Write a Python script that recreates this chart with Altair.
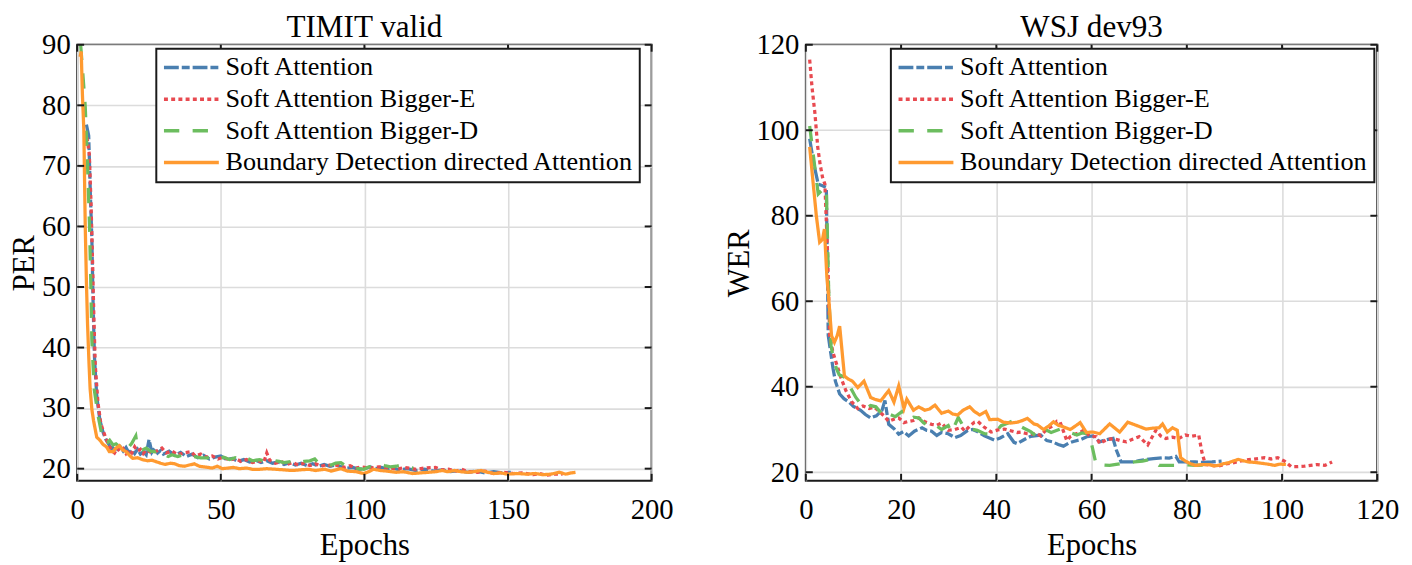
import altair as alt
import pandas as pd

SERIES = ["Soft Attention", "Soft Attention Bigger-E", "Soft Attention Bigger-D",
          "Boundary Detection directed Attention"]
COLORS = ["#4a7fb0", "#e84a50", "#6cbd5f", "#ff9a30"]
DASHES = [[15, 3, 8, 3], [4, 3.3], [15.5, 13.5], [1, 0]]

# ---------------- TIMIT valid (PER) ----------------
timit_sa_x = [3.2, 4.0, 4.6, 5.1, 5.5, 6.0, 6.8, 7.9, 9.0, 10, 11, 12, 13, 14, 15, 16, 17, 18, 19, 20, 21, 22, 23, 24, 25, 26, 27, 28, 29, 30,
              32, 34, 36, 38, 40, 42, 44, 46, 48, 50, 52, 54, 56, 58, 60, 62, 64, 66, 68, 70, 72, 74, 76, 78, 80, 82, 84, 86, 88, 90,
              92, 94, 96, 98, 100, 102, 104, 106, 108, 110, 112, 115, 118, 121, 124, 127, 130, 133, 136, 139, 142, 145, 148, 151]
timit_sa_y = [76.8, 75.0, 65.0, 58.0, 48.0, 38.5, 32.0, 28.0, 26.0, 24.8, 24.0, 23.3, 23.8, 23.2, 23.6, 22.9, 23.5, 22.6, 23.1, 22.5, 23.2, 22.4, 22.8, 22.3, 24.8, 22.7, 23.4, 22.6, 23.0, 22.4,
              22.9, 22.2, 22.7, 22.0, 22.4, 21.8, 22.2, 21.6, 21.9, 22.1, 21.5, 21.7, 21.2, 21.5, 21.1, 21.4, 21.0, 21.3, 20.9, 21.1, 20.7, 21.0, 20.6, 20.9, 20.5, 20.8, 20.4, 20.7, 20.4, 20.6,
              20.3, 20.1, 20.2, 19.9, 20.0, 20.3, 20.0, 20.2, 19.9, 20.1, 19.8, 20.0, 19.7, 19.9, 19.6, 19.8, 19.5, 19.7, 19.4, 19.6, 19.3, 19.5, 19.3, 19.4]

timit_be_x = [3.4, 4.2, 4.8, 5.3, 5.8, 6.3, 7.2, 8.2, 9.1, 10, 11, 12, 13, 14, 15, 16, 17, 18, 19, 20, 21, 22, 23, 24,
              26, 28, 29.5, 31, 33, 35, 37, 39.7, 41, 43, 45, 47, 49, 51, 53, 55, 57, 59, 61, 63, 65, 66, 67,
              69, 71, 73, 75, 77, 79, 81, 83, 85, 87, 89, 91, 93, 95, 97, 99,
              102, 105, 108.8, 111, 114, 117.9, 121, 124.7, 127, 129.3, 132, 133.8, 136, 139.5, 142, 145, 148, 152, 155, 158.7, 161, 163.3, 166, 169]
timit_be_y = [74.7, 72, 64, 55, 45, 37, 31, 27.5, 26.2, 25, 23.9, 23.0, 22.6, 23.4, 22.8, 23.3, 22.5, 23.1, 22.6, 23.6, 22.9, 23.2, 22.5, 23.1,
              22.6, 23.0, 23.4, 22.6, 22.9, 22.3, 22.6, 22.8, 22.1, 22.4, 21.9, 22.1, 21.6, 21.9, 21.4, 21.7, 21.2, 21.5, 21.0, 21.3, 21.1, 22.6, 21.4,
              20.9, 21.2, 20.7, 21.0, 20.6, 20.9, 20.5, 20.8, 20.4, 20.7, 20.4, 20.6, 20.2, 20.5, 20.1, 20.3,
              20.1, 20.3, 20.2, 19.9, 20.2, 19.9, 20.1, 20.2, 19.8, 19.9, 19.6, 19.9, 19.5, 19.4, 19.6, 19.2, 19.4, 19.2, 19.3, 19.0, 19.2, 18.9, 19.1, 19.1]

timit_bd_x = [1.2, 2.0, 2.8, 3.6, 4.3, 4.8, 5.1, 5.9, 7.4, 8.5, 9.5, 10.5, 11.3, 12.5, 13.5, 14.5, 15.9, 17, 18, 19,
              20.4, 21, 22.7, 24, 25.5, 27.2, 28.5, 30, 31.7, 33, 35, 37, 39, 40.8, 43, 45.4, 47, 49, 51, 53,
              55, 57, 59, 61, 63.5, 66, 68, 70.3, 72, 74.8, 77, 79, 81, 82.7, 84, 86.2, 88.4, 90, 91.8, 94,
              96.3, 98, 99.8, 101, 103, 105.4, 107, 109, 111.1, 113, 115, 117]
timit_bd_y = [90, 85, 79.8, 70.1, 60, 49.3, 41.3, 33.2, 28.4, 25.8, 24.4, 24.3, 24.7, 23.9, 24.1, 23.7, 23.8, 24.0, 23.6, 24.2,
              25.4, 23.5, 23.1, 23.4, 22.9, 22.8, 23.1, 22.4, 22.0, 22.3, 22.0, 22.3, 21.9, 22.0, 21.8, 21.8, 22.0, 21.6, 21.9, 21.5,
              21.8, 21.4, 21.8, 21.3, 21.5, 21.1, 21.4, 21.2, 21.0, 21.2, 20.9, 21.2, 21.3, 21.6, 20.9, 20.7, 20.6, 20.9, 21.0, 20.3,
              19.9, 20.0, 19.9, 20.2, 20.5, 20.7, 20.5, 20.3, 20.4, 20.6, 20.3, 20.1]

timit_bdda_x = [1.0, 1.4, 1.8, 2.3, 2.8, 3.2, 3.6, 4.1, 4.5, 5.1, 5.7, 6.8, 7.9, 9, 10.2, 11.2, 12.5, 13.5, 14.7, 15.8,
                17, 18.2, 19.3, 21, 22.7, 24.5, 26, 27.2, 29, 30.6, 32.5, 34, 35.5, 37.4, 39, 40.8, 42.5, 44.2, 47, 48.8,
                50.5, 52.5, 54.4, 56.5, 59, 61, 63.5, 66, 69.2, 72, 74.8, 77.5, 80.5, 83, 86.2, 88.4, 91.8, 94.1, 97, 99.8,
                101.5, 103.2, 105.5, 107.7, 111.1, 113.5, 116.8, 119.5, 122.4, 125, 127, 129, 131.5, 133.5, 136, 138, 140.6, 143, 145.1, 147.5,
                149.7, 153, 156.5, 159.5, 162.2, 165, 167.8, 170.1, 172, 173.5]
timit_bdda_y = [88.0, 88.9, 82, 76, 60, 51, 43.9, 37.5, 33.2, 29.8, 27.9, 25.2, 24.7, 24.0, 23.6, 22.8, 22.8, 23.4, 23.8, 23.1,
                22.8, 22.2, 21.7, 21.8, 21.5, 21.3, 21.4, 21.2, 20.9, 20.7, 20.9, 20.8, 20.5, 20.4, 20.6, 20.8, 20.4, 20.3, 20.1, 20.4,
                20.0, 20.1, 20.2, 20.0, 20.1, 19.9, 19.9, 20.0, 19.9, 19.8, 19.7, 19.8, 19.9, 19.7, 19.9, 19.6, 20.0, 19.6, 19.5, 19.2,
                19.5, 19.9, 19.7, 19.6, 19.4, 19.5, 19.2, 19.3, 19.4, 19.5, 19.7, 19.5, 19.7, 19.5, 19.4, 19.5, 19.7, 19.4, 19.2, 19.3,
                19.1, 19.2, 19.1, 19.2, 19.0, 19.1, 19.4, 19.1, 19.3, 19.4]

# ---------------- WSJ dev93 (WER) ----------------
wsj_sa_x = [0.8, 1.7, 2.6, 3.5, 4.3, 4.7, 5.7, 6.2, 7.1, 8, 9.1, 10, 11.5, 12.5, 13.6, 14.8, 16, 16.6, 17.4, 18.5,
            19.5, 20.5, 21.6, 22.8, 24.4, 25.4, 26.4, 27.5, 28.5, 29.9, 31.3, 32.5, 34, 35, 36, 37.5, 39.6, 40.8, 42.4, 43.7,
            44.4, 45.8, 47.2, 49.3, 50.6, 51.8, 53, 54.1, 55.2, 56.2, 57.6, 59, 60.3, 61.7, 63, 64.5, 65.2, 66.2, 67.5, 68.6,
            70, 71.4, 73, 74.9, 76.3, 77.7, 78.4, 80, 81.8, 83.5, 85.3, 87.3]
wsj_sa_y = [98, 92, 87.4, 87, 86.6, 52, 44.3, 41.3, 38.3, 37.2, 36.4, 35.4, 34.5, 33.5, 32.7, 33.2, 34.5, 36.8, 31.2, 30.2,
            28.9, 29.5, 28.5, 29.6, 30.4, 29.8, 29.6, 28.6, 29.3, 29.0, 28.1, 28.6, 29.8, 30.0, 29.5, 28.5, 27.5, 28.0, 29.0, 27.0,
            26.7, 27.6, 28.4, 28.7, 27.4, 27.1, 26.5, 26.1, 26.8, 27.2, 27.6, 28.3, 28.5, 27.1, 27.6, 27.9, 25.2, 22.4, 22.4, 22.4,
            22.7, 23.0, 23.2, 23.4, 23.3, 23.7, 22.4, 22.4, 22.4, 22.3, 22.4, 22.6]

wsj_be_x = [0.8, 1.3, 1.9, 2.5, 3.0, 3.5, 4.0, 4.6, 5.0, 5.7, 6.4, 7.4, 8.4, 9.6, 10.9, 12, 13.3, 14.4, 15.4, 16.4,
            17.4, 18.5, 19.5, 20.6, 21.6, 22.6, 23.7, 25, 26.4, 27.5, 28.5, 29.9, 31.3, 32.7, 33.4, 34.4, 35.4, 36.1, 37.5, 38.9,
            40.3, 41.7, 43, 44.4, 45.1, 46.5, 47.2, 48.6, 49.3, 50.6, 52, 52.7, 53.4, 54.8, 55.5, 56.5, 57.6, 58.3, 59.6, 61,
            61.7, 63, 64.5, 66, 67.3, 68.6, 70, 71.8, 72.6, 73.5, 74.5, 75.6, 77, 78.3, 79.7, 81, 82.5, 83.2, 83.9, 85.3,
            86.6, 88, 89.4, 90.8, 92.2, 93.6, 95, 96.3, 97.7, 99.1, 100.5, 101.9, 103.3, 104.7, 106, 107.4, 109, 110.5]
wsj_be_y = [116.5, 110, 104, 96, 92, 89, 87.4, 70, 51.9, 48, 45.5, 42, 39.1, 36.5, 34.9, 35.5, 34.9, 35.2, 34.2, 33.2,
            31.9, 32.4, 32.7, 31.6, 31.9, 32.1, 32.7, 31.8, 31.2, 31.0, 31.5, 29.8, 30.0, 30.5, 29.6, 30.8, 31.7, 31.9, 30.5, 29.4,
            29.9, 30.1, 29.7, 29.3, 29.4, 29.0, 28.9, 29.0, 28.5, 30.1, 30.9, 31.9, 31.7, 27.4, 28.3, 28.9, 29.3, 29.8, 28.5, 28.3,
            26.7, 27.5, 27.9, 27.4, 27.1, 27.7, 28.3, 26.4, 28.0, 29.8, 28.5, 27.9, 28.2, 27.9, 28.7, 28.4, 28.7, 24.5, 21.8, 21.6,
            21.4, 21.9, 22.1, 22.5, 22.8, 23.0, 23.2, 23.4, 23.1, 23.4, 22.6, 21.3, 21.3, 21.4, 21.6, 21.8, 21.6, 22.4]

wsj_bd_x = [0.8, 1.7, 2.6, 3.4, 4.3, 4.8, 5.3, 5.8, 6.4, 7, 8.4, 9.5, 10.5, 11.5, 12.6, 13.6, 14.7, 15.7, 16.7, 17.7,
            18.8, 20.2, 21.6, 22.6, 23.7, 24.7, 25.7, 27, 28.5, 29.9, 30.6, 32, 33.2, 34.8, 36, 37.5, 38.9, 40, 41, 42.5,
            43.7, 44.8, 45.8, 47.2, 48.6, 49.6, 50.6, 51.5, 53.4, 54.6, 55.7, 56.9, 58, 59, 59.6, 60.3, 61, 62.5, 63.8, 65.5,
            67.3, 69, 70.7, 72.8, 74.2, 76, 78.4, 80, 81.8, 83.5, 85.3]
wsj_bd_y = [101, 93, 85.1, 86, 86.6, 62, 49.6, 46.5, 44.3, 42.8, 42.1, 39.5, 37.5, 36, 34.9, 35.6, 35.3, 34.0, 32.7, 33.5,
            33.0, 34.2, 32.3, 32.9, 32.7, 31.6, 30.8, 31.2, 30.0, 30.9, 29.3, 32.8, 30.5, 30.1, 29.8, 29.0, 28.9, 29.6, 30.9, 31.5,
            32.2, 30.9, 30.3, 29.5, 28.3, 29.5, 29.8, 29.3, 30.1, 29.8, 29.2, 28.7, 29.2, 29.0, 28.5, 25.1, 21.6, 21.7, 21.6, 21.9,
            22.2, 22.4, 22.6, 23.1, 21.6, 21.6, 21.6, 21.7, 21.6, 21.7, 21.8]

wsj_bdda_x = [0.8, 1.5, 2.2, 2.9, 3.5, 3.9, 4.4, 4.7, 5.4, 6, 6.6, 7.1, 8.1, 8.9, 9.8, 10.9, 12.2, 13.6, 14.6, 15.7,
              16.5, 17.4, 18.5, 19.5, 20.6, 21.2, 22.6, 23.7, 25, 26, 27.1, 28.5, 29.9, 30.9, 31.9, 33, 34.4, 35.4, 36.5, 37.8,
              38.6, 40.3, 41.5, 43, 44.4, 45.5, 46.5, 47.9, 48.6, 49.9, 51, 52, 53, 54.1, 55.5, 56.2, 57.6, 58.9, 60.3, 61.7,
              62.8, 63.8, 64.8, 65.9, 66.8, 67.6, 68.6, 70, 71.4, 72.8, 74.2, 74.9, 75.9, 77, 78, 78.7, 79.7, 80.8, 81.8, 83.2,
              84.6, 85.6, 86.6, 87.7, 88.7, 89.7, 90.8, 91.8, 92.9, 94.2, 95.6, 97, 98.4, 99.6, 100.8]
wsj_bdda_y = [96.1, 88, 80, 73.8, 74.5, 76.9, 66, 62.1, 51.9, 50.4, 52, 54.2, 42.5, 41.8, 41.3, 39.8, 41.3, 37.5, 37.0, 36.7,
              37.8, 39.1, 36.4, 40.2, 34.9, 37.1, 34.5, 35.3, 34.5, 34.8, 35.7, 33.8, 34.3, 33.6, 33.4, 34.5, 35.3, 34.2, 33.4, 34.2,
              32.3, 32.4, 31.7, 31.5, 31.7, 32.1, 32.6, 31.3, 31.1, 30.0, 30.8, 31.8, 31.0, 30.6, 30.0, 30.5, 31.6, 29.3, 29.4, 29.0,
              30.2, 31.3, 30.4, 29.4, 30.6, 31.7, 31.3, 30.7, 30.1, 30.3, 30.4, 31.3, 29.4, 30.4, 29.8, 23.4, 22.6, 22.0, 21.6, 21.8,
              21.8, 21.5, 21.6, 22.0, 22.2, 22.6, 23.0, 22.7, 22.4, 22.3, 22.1, 21.9, 21.6, 21.9, 21.8]

timit_xticks = [0, 50, 100, 150, 200]
timit_yticks = [20, 30, 40, 50, 60, 70, 80, 90]
wsj_xticks = [0, 20, 40, 60, 80, 100, 120]
wsj_yticks = [20, 40, 60, 80, 100, 120]

FONT = "Liberation Serif"
INK = "#1a1a1a"


def frame(xs_list, ys_list):
    rows = []
    for name, xs, ys in zip(SERIES, xs_list, ys_list):
        for i, (x, y) in enumerate(zip(xs, ys)):
            rows.append({"series": name, "epoch": x, "value": y, "idx": i})
    return pd.DataFrame(rows)


def panel(df, title, ytitle, xdom, ydom, xticks, yticks, W, H, lx, ly):
    xs = alt.Scale(domain=xdom, nice=False, zero=False)
    ys = alt.Scale(domain=ydom, nice=False, zero=False)
    xa = alt.Axis(title="Epochs", values=xticks, labelFlush=False, labelOverlap=False,
                  labelPadding=15, titlePadding=7)
    ya = alt.Axis(title=ytitle, values=yticks, labelFlush=False, labelOverlap=False,
                  labelPadding=7, titlePadding=1)
    leg = alt.Legend(title=None, orient="none", legendX=lx, legendY=ly,
                     symbolType="stroke", symbolSize=3080, symbolStrokeWidth=3.5,
                     labelFont=FONT, labelFontSize=26.5, labelColor="black",
                     labelOffset=5, labelLimit=700, rowPadding=5, padding=6,
                     strokeColor=INK, fillColor="white", clipHeight=26)
    lines = alt.Chart(df).mark_line(strokeWidth=3.3, clip=True).encode(
        x=alt.X("epoch:Q", scale=xs, axis=xa),
        y=alt.Y("value:Q", scale=ys, axis=ya),
        color=alt.Color("series:N", scale=alt.Scale(domain=SERIES, range=COLORS), legend=leg),
        strokeDash=alt.StrokeDash("series:N", scale=alt.Scale(domain=SERIES, range=DASHES), legend=leg),
        order=alt.Order("idx:Q"),
    )
    xt = pd.DataFrame({"epoch": xticks})
    yt = pd.DataFrame({"value": yticks})
    tk = dict(color=INK, strokeWidth=2)
    bottom = alt.Chart(xt).mark_rule(**tk).encode(
        x=alt.X("epoch:Q", scale=xs, axis=xa), y=alt.value(H), y2=alt.value(H - 7))
    top = alt.Chart(xt).mark_rule(**tk).encode(
        x=alt.X("epoch:Q", scale=xs, axis=xa), y=alt.value(0), y2=alt.value(7))
    left = alt.Chart(yt).mark_rule(**tk).encode(
        y=alt.Y("value:Q", scale=ys, axis=ya), x=alt.value(0), x2=alt.value(7))
    right = alt.Chart(yt).mark_rule(**tk).encode(
        y=alt.Y("value:Q", scale=ys, axis=ya), x=alt.value(W - 7), x2=alt.value(W))
    return alt.layer(lines, bottom, top, left, right).properties(
        width=W, height=H,
        title=alt.TitleParams(title, font=FONT, fontSize=31.5, fontWeight="normal", color="black",
                              offset=-13, frame="group"),
    )


timit_df = frame([timit_sa_x, timit_be_x, timit_bd_x, timit_bdda_x],
                 [timit_sa_y, timit_be_y, timit_bd_y, timit_bdda_y])
wsj_df = frame([wsj_sa_x, wsj_be_x, wsj_bd_x, wsj_bdda_x],
               [wsj_sa_y, wsj_be_y, wsj_bd_y, wsj_bdda_y])

H = 441
p1 = panel(timit_df, "TIMIT valid", "PER", [0, 200], [18, 90], timit_xticks, timit_yticks, 581, H, 80, 4)
p2 = panel(wsj_df, "WSJ dev93", "WER", [0, 120], [18, 120], wsj_xticks, wsj_yticks, 578, H, 86, 4)

chart = alt.hconcat(p1, p2, spacing=48).resolve_scale(
    color="independent", strokeDash="independent", x="independent", y="independent"
).properties(
    padding={"left": 0, "top": 0, "right": 4, "bottom": 0}
).configure_view(
    stroke=INK, strokeWidth=2
).configure_axis(
    labelFont=FONT, titleFont=FONT, labelFontSize=29, titleFontSize=31,
    labelColor="black", titleColor="black", titleFontWeight="normal",
    grid=True, gridColor="#dcdcdc", gridWidth=1.6, domain=False, ticks=False,
).configure_legend(
    strokeWidth=2
)

chart.save("out.html", embed_options={"renderer": "svg", "actions": False})
